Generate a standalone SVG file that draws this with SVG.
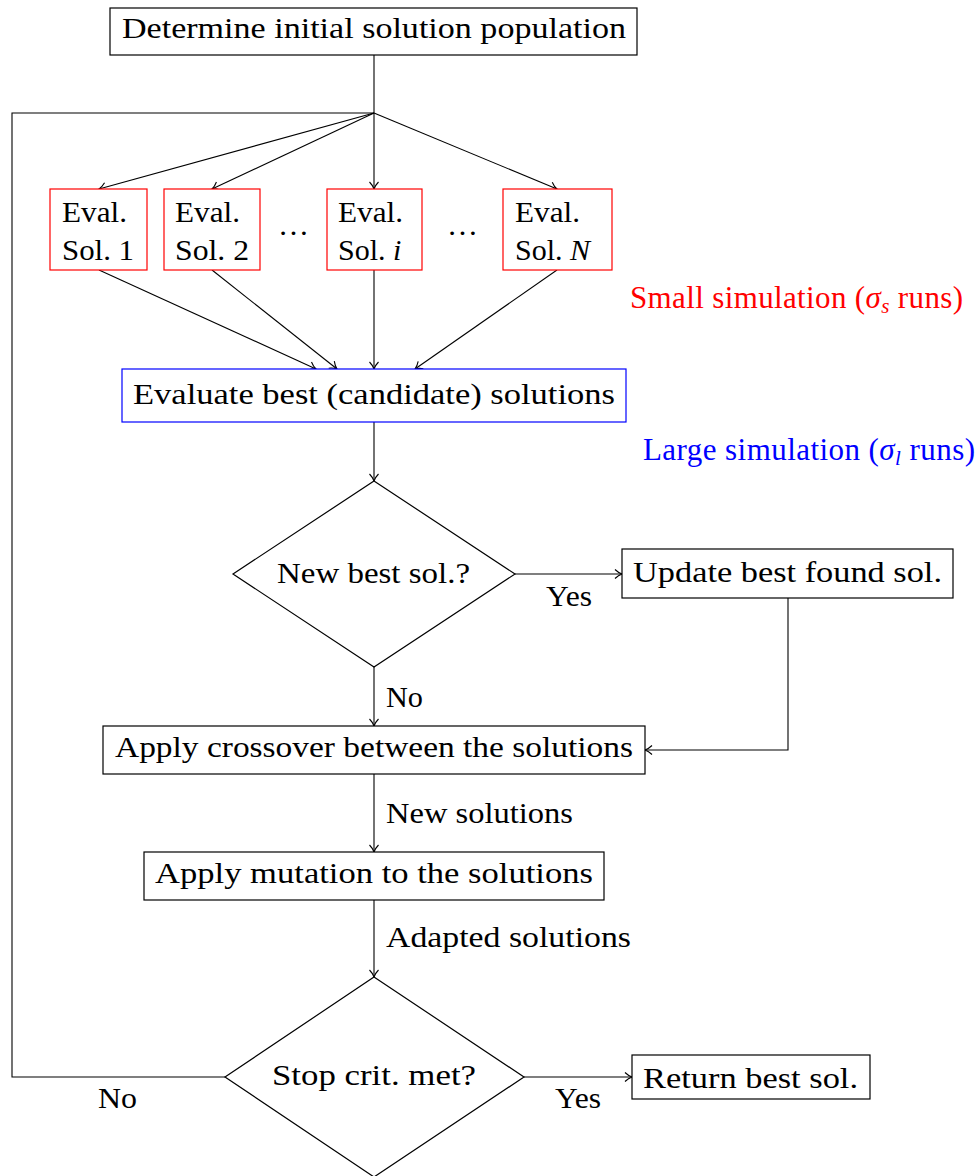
<svg xmlns="http://www.w3.org/2000/svg" width="979" height="1176" viewBox="0 0 979 1176">
<style>
text{font-family:"Liberation Serif","Times New Roman",serif;font-size:30px;fill:#000}
.box{fill:#fff;stroke:#000;stroke-width:1.2}
.red{fill:#fff;stroke:#ff0000;stroke-width:1.2}
.blue{fill:#fff;stroke:#0000ff;stroke-width:1.2}
.c{text-anchor:middle}
.conn{fill:none;stroke:#000;stroke-width:1.1}
.it{font-style:italic}
</style>
<defs>
<marker id="arr" viewBox="-9 -6 10 12" refX="0" refY="0" markerWidth="10" markerHeight="12" markerUnits="userSpaceOnUse" orient="auto">
<path d="M-7,-4.5 C-4,-1.6 -1.2,-0.4 0,0 C-1.2,0.4 -4,1.6 -7,4.5" fill="none" stroke="#000" stroke-width="1.1"/>
</marker>
</defs>
<g id="connectors">
<path class="conn" d="M374,55 L374,113"/>
<path class="conn" d="M225,1077 L12,1077 L12,113 L374,113"/>
<path class="conn" d="M374,113 L99,189" marker-end="url(#arr)"/>
<path class="conn" d="M374,113 L212,189" marker-end="url(#arr)"/>
<path class="conn" d="M374,113 L374,189" marker-end="url(#arr)"/>
<path class="conn" d="M374,113 L557,189" marker-end="url(#arr)"/>
<path class="conn" d="M99,270 L316,369" marker-end="url(#arr)"/>
<path class="conn" d="M212,270 L337,369" marker-end="url(#arr)"/>
<path class="conn" d="M374,270 L374,369" marker-end="url(#arr)"/>
<path class="conn" d="M557,270 L415,369" marker-end="url(#arr)"/>
<path class="conn" d="M374,422 L374,481" marker-end="url(#arr)"/>
<path class="conn" d="M515,574 L622,574" marker-end="url(#arr)"/>
<path class="conn" d="M788,598 L788,750 L645,750" marker-end="url(#arr)"/>
<path class="conn" d="M374,667 L374,726" marker-end="url(#arr)"/>
<path class="conn" d="M374,774 L374,852" marker-end="url(#arr)"/>
<path class="conn" d="M374,900 L374,977" marker-end="url(#arr)"/>
<path class="conn" d="M524,1077 L632,1077" marker-end="url(#arr)"/>
<text x="546" y="606" textLength="46" lengthAdjust="spacingAndGlyphs">Yes</text>
<text x="386" y="707" textLength="37" lengthAdjust="spacingAndGlyphs">No</text>
<text x="386" y="823" textLength="187" lengthAdjust="spacingAndGlyphs">New solutions</text>
<text x="386" y="947" textLength="245" lengthAdjust="spacingAndGlyphs">Adapted solutions</text>
<text x="555" y="1108" textLength="46" lengthAdjust="spacingAndGlyphs">Yes</text>
<text x="98" y="1108" textLength="39" lengthAdjust="spacingAndGlyphs">No</text>
</g>
<g id="init">
<rect class="box" x="110" y="8" width="527" height="47"/>
<text x="122" y="38" textLength="504" lengthAdjust="spacingAndGlyphs">Determine initial solution population</text>
</g>
<g id="eval1">
<rect class="red" x="50" y="189" width="97" height="81"/>
<text x="62" y="222" textLength="65" lengthAdjust="spacingAndGlyphs">Eval.</text>
<text x="62" y="260" textLength="72" lengthAdjust="spacingAndGlyphs">Sol. 1</text>
</g>
<g id="eval2">
<rect class="red" x="164" y="189" width="96" height="81"/>
<text x="175" y="222" textLength="65" lengthAdjust="spacingAndGlyphs">Eval.</text>
<text x="175" y="260" textLength="74" lengthAdjust="spacingAndGlyphs">Sol. 2</text>
</g>
<g id="dots1">
<text x="278" y="235" textLength="31" lengthAdjust="spacingAndGlyphs">…</text>
</g>
<g id="evali">
<rect class="red" x="327" y="189" width="95" height="81"/>
<text x="338" y="222" textLength="65" lengthAdjust="spacingAndGlyphs">Eval.</text>
<text x="338" y="260">Sol. <tspan class="it">i</tspan></text>
</g>
<g id="dots2">
<text x="447" y="235" textLength="31" lengthAdjust="spacingAndGlyphs">…</text>
</g>
<g id="evalN">
<rect class="red" x="503" y="189" width="109" height="81"/>
<text x="515" y="222" textLength="65" lengthAdjust="spacingAndGlyphs">Eval.</text>
<text x="515" y="260">Sol. <tspan class="it">N</tspan></text>
</g>
<g id="small-label">
<text x="630" y="308" style="fill:#ff0000;font-size:31px" textLength="333" lengthAdjust="spacing">Small simulation (<tspan class="it" style="fill:#ff0000">σ</tspan><tspan class="it" style="fill:#ff0000;font-size:21px" dy="5">s</tspan><tspan style="fill:#ff0000" dy="-5"> runs)</tspan></text>
</g>
<g id="evaluate">
<rect class="blue" x="122" y="369" width="504" height="53"/>
<text x="133" y="404" textLength="482" lengthAdjust="spacingAndGlyphs">Evaluate best (candidate) solutions</text>
</g>
<g id="large-label">
<text x="643" y="460" style="fill:#0000ff;font-size:31px" textLength="332" lengthAdjust="spacing">Large simulation (<tspan class="it" style="fill:#0000ff">σ</tspan><tspan class="it" style="fill:#0000ff;font-size:21px" dy="5">l</tspan><tspan style="fill:#0000ff" dy="-5"> runs)</tspan></text>
</g>
<g id="newbest">
<polygon class="box" points="374,481 515,574 374,667 233,574"/>
<text x="277" y="583" textLength="193" lengthAdjust="spacingAndGlyphs">New best sol.?</text>
</g>
<g id="update">
<rect class="box" x="622" y="549" width="331" height="49"/>
<text x="633" y="582" textLength="309" lengthAdjust="spacingAndGlyphs">Update best found sol.</text>
</g>
<g id="crossover">
<rect class="box" x="103" y="726" width="542" height="48"/>
<text x="115" y="757" textLength="518" lengthAdjust="spacingAndGlyphs">Apply crossover between the solutions</text>
</g>
<g id="mutation">
<rect class="box" x="144" y="852" width="460" height="48"/>
<text x="155" y="883" textLength="438" lengthAdjust="spacingAndGlyphs">Apply mutation to the solutions</text>
</g>
<g id="stop">
<polygon class="box" points="374,977 524,1077 374,1177 225,1077"/>
<text x="272" y="1085" textLength="204" lengthAdjust="spacingAndGlyphs">Stop crit. met?</text>
</g>
<g id="return">
<rect class="box" x="632" y="1055" width="238" height="44"/>
<text x="643" y="1088" textLength="215" lengthAdjust="spacingAndGlyphs">Return best sol.</text>
</g>
</svg>
